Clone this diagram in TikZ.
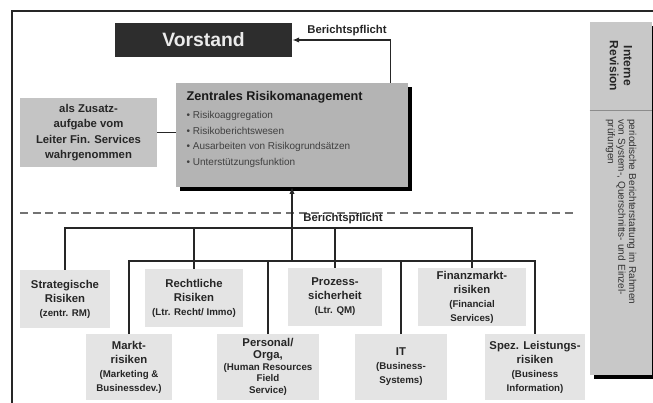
\documentclass[tikz,border=0pt]{standalone}
\usepackage{fontspec}
\setmainfont{Liberation Sans}
\usetikzlibrary{arrows.meta,shadows}
\definecolor{riskfill}{RGB}{228,228,228}
\definecolor{zusatzfill}{RGB}{196,196,196}
\definecolor{zentralfill}{RGB}{180,180,180}
\definecolor{revfill}{RGB}{200,200,200}
\definecolor{boardfill}{RGB}{45,45,45}
\newcommand{\risksub}[1]{{\fontsize{7.3}{9}\selectfont #1}}

\tikzset{
    frameline/.style={line width=1.2pt, black!85},
    conn/.style={line width=0.9pt, black!85},
    sepline/.style={line width=0.8pt, black!55, dash pattern=on 6pt off 3.5pt},
    blackshadow/.style={drop shadow={shadow xshift=3pt, shadow yshift=-3pt, opacity=1, fill=black}},
    riskbox/.style={fill=riskfill, text=black!85, align=center, inner sep=1pt,
        font=\fontsize{8.5}{10.5}\selectfont\bfseries},
    bplabel/.style={text=black!85, font=\fontsize{8.5}{10}\selectfont\bfseries, inner sep=1pt},
}

\begin{document}
\begin{tikzpicture}[x=0.75pt, y=-0.75pt]
    \useasboundingbox (0,0) rectangle (653,403);

    % Frame lines at top and left
    \coordinate (ftl) at (12,11);
    \coordinate (ftr) at (653,11);
    \coordinate (fbl) at (12,403);
    \draw[frameline] (ftr) -- (ftl) -- (fbl);

    % Board
    \node[fill=boardfill, text=black!8, minimum width=133pt, minimum height=25.5pt,
        font=\fontsize{14.5}{17}\selectfont\bfseries] (vorstand) at (203.5,40) {Vorstand};

    % Central risk management with its tasks
    \node[fill=zentralfill, blackshadow, minimum width=174pt, minimum height=78pt] (zentral) at (292,135) {};
    \node[anchor=north west, align=left, text=black!75, inner sep=2pt,
        font=\fontsize{7.5}{11.6}\selectfont] (zentrallist) at ([shift={(8,6)}]zentral.north west)
        {{\fontsize{9.5}{11}\selectfont\bfseries\color{black!90} Zentrales Risikomanagement}\\[2pt]
         • Risikoaggregation\\
         • Risikoberichtswesen\\
         • Ausarbeiten von Risikogrundsätzen\\
         • Unterstützungsfunktion};

    \node[fill=zusatzfill, text=black!85, align=center, minimum width=103pt, minimum height=52pt,
        font=\fontsize{8.5}{11.6}\selectfont\bfseries] (zusatz) at (88.5,132.5)
        {als Zusatz-\\aufgabe vom\\Leiter Fin. Services\\wahrgenommen};
    \draw[conn] (zusatz.east) -- (zusatz.east -| zentral.west);

    % Reporting line up to the board
    \coordinate (bpup) at ([xshift=-13.5pt]zentral.north east);
    \draw[conn, -{Latex[length=5pt, width=4pt]}] (bpup) |- (vorstand.east);
    \node[bplabel] (bptop) at (347,31) {Berichtspflicht};

    % Dashed separator
    \coordinate (dashl) at (20,213);
    \coordinate (dashr) at (575,213);
    \draw[sepline] (dashl) -- (dashr);

    % Risk areas, upper row
    \node[riskbox, minimum width=67.5pt, minimum height=43.5pt] (strat) at (65,299)
        {Strategische\\Risiken\\\risksub{(zentr. RM)}};
    \node[riskbox, minimum width=73.5pt, minimum height=43.5pt] (recht) at (194,298)
        {Rechtliche\\Risiken\\\risksub{(Ltr. Recht/ Immo)}};
    \node[riskbox, minimum width=70pt, minimum height=43.5pt] (proz) at (335,297)
        {Prozess-\\sicherheit\\\risksub{(Ltr. QM)}};
    \node[riskbox, minimum width=81pt, minimum height=43.5pt] (finanz) at (472,297)
        {Finanzmarkt-\\risiken\\\risksub{(Financial}\\\risksub{Services)}};

    % Risk areas, lower row
    \node[riskbox, minimum width=65pt, minimum height=49pt] (markt) at (129,367)
        {Markt-\\risiken\\\risksub{(Marketing \&}\\\risksub{Businessdev.)}};
    \node[riskbox, minimum width=76pt, minimum height=49pt,
        font=\fontsize{8.5}{8.8}\selectfont\bfseries] (personal) at (268,367)
        {Personal/\\Orga,\\\risksub{(Human Resources}\\\risksub{Field}\\\risksub{Service)}};
    \node[riskbox, minimum width=69pt, minimum height=49pt] (it) at (401,367)
        {IT\\\risksub{(Business-}\\\risksub{Systems)}};
    \node[riskbox, minimum width=75pt, minimum height=49pt] (spez) at (535,367)
        {Spez. Leistungs-\\risiken\\\risksub{(Business}\\\risksub{Information)}};

    % Reporting lines from the risk areas
    \coordinate (upperbar) at (0,228);
    \coordinate (lowerbar) at (0,261);
    \draw[conn] (strat.north) -- (strat.north |- upperbar) -- (finanz.north |- upperbar) -- (finanz.north);
    \draw[conn] (recht.north) -- (recht.north |- upperbar);
    \draw[conn] (proz.north) -- (proz.north |- upperbar);
    \draw[conn] (markt.north) -- (markt.north |- lowerbar) -- (spez.north |- lowerbar) -- (spez.north);
    \draw[conn] (personal.north) -- (personal.north |- lowerbar);
    \draw[conn] (it.north) -- (it.north |- lowerbar);
    \draw[conn, -{Latex[length=5pt, width=4pt]}] (zentral.south |- lowerbar) -- (zentral.south);
    \node[bplabel] (bpbottom) at (343,219) {Berichtspflicht};

    % Internal audit column
    \node[fill=revfill, blackshadow, minimum width=46.5pt, minimum height=264.75pt] (revcol) at (621,198.5) {};
    \node[rotate=-90, align=center, text=black!85, inner sep=1pt,
        font=\fontsize{9}{10.5}\selectfont\bfseries] (revhead) at (621,66) {Interne\\Revision};
    \draw[black!45, line width=0.5pt] (revcol.west |- 0,110) -- (revcol.east |- 0,110);
    \node[rotate=-90, align=left, text width=187pt, text=black!80, inner sep=1pt,
        font=\fontsize{7.5}{8}\selectfont] (revbody) at (621,244)
        {periodische Berichterstattung im Rahmen\\von System-, Querschnitts- und Einzel-\\prüfungen};

\end{tikzpicture}
\end{document}
